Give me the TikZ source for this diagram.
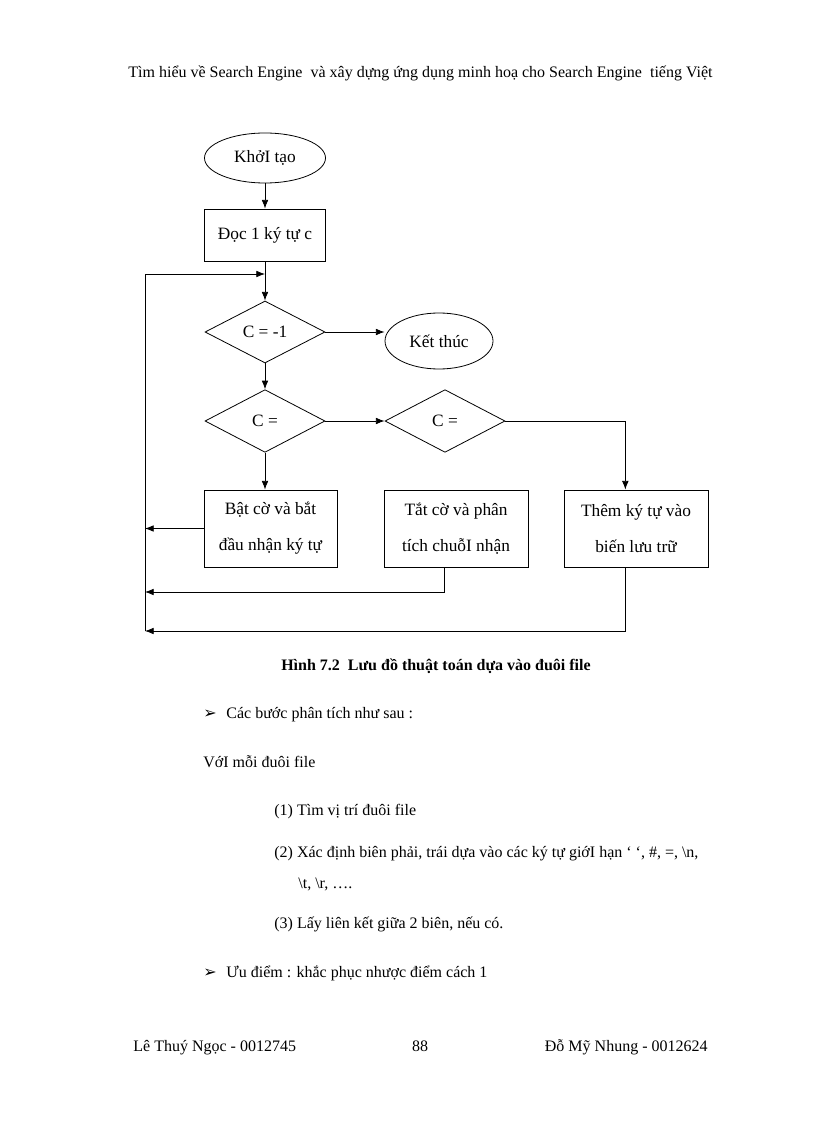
\documentclass[tikz,border=0pt]{standalone}
\usepackage{fontspec}
\setmainfont{Liberation Serif}
\newfontfamily\symfont{DejaVu Sans}
\usetikzlibrary{positioning,shapes.geometric,arrows.meta}

\begin{document}
\begin{tikzpicture}[x=0.75pt,y=-0.75pt,line width=0.6pt,
    >={Latex[length=6.5pt,width=5pt]},
    term/.style={draw,ellipse,inner sep=0pt,font=\fontsize{13}{15}\selectfont},
    stepbox/.style={draw,rectangle,align=center,inner sep=0pt,font=\fontsize{13}{27}\selectfont},
    test/.style={draw,diamond,inner sep=0pt,minimum width=90pt,minimum height=47pt,font=\fontsize{13}{15}\selectfont},
    txt/.style={anchor=base west,inner sep=0pt,font=\fontsize{12}{14}\selectfont}]
      \useasboundingbox (0,0) rectangle (816,1123);

      \node[anchor=base,inner sep=0pt,font=\fontsize{12}{14}\selectfont] (head) at (420.5,78) {Tìm hiểu về Search Engine \ và xây dựng ứng dụng minh hoạ cho Search Engine \ tiếng Việt};

      \node[term,minimum width=90.75pt,minimum height=37.5pt] (start) at (265,158) {KhởI tạo};
      \node[stepbox,minimum width=90.75pt,minimum height=39pt] (read) at (265,235) {Đọc 1 ký tự c};
      \node[test,minimum height=46.5pt] (d1) at (265,332) {C = -1};
      \node[term,minimum width=81pt,minimum height=42pt] (end) at (439,341) {Kết thúc};

      \node[test] (d2) at (265,421) {C =};
      \node[test] (d3) at (445,421) {C =};

      \node[stepbox,minimum width=99.75pt,minimum height=57.75pt] (set) at (270.5,528.5) {Bật cờ và bắt\\đầu nhận ký tự};
      \node[stepbox,minimum width=108pt,minimum height=57.75pt] (parse) at (456,528.5) {Tắt cờ và phân\\tích chuỗI nhận};
      \node[stepbox,minimum width=108pt,minimum height=57.75pt] (add) at (636,528.5) {Thêm ký tự vào\\biến lưu trữ};

      \coordinate (join) at (265,274);
      \coordinate (railtop) at (145,274);
      \coordinate (back2) at (145,592);
      \coordinate (back3) at (145,631);

      \draw[->] (start) -- (read);
      \draw[->] (read) -- (d1);
      \draw[->] (back3) -- (railtop) -- (join);
      \draw[->] (d1.east) -- (d1.east -| end.west);
      \draw[->] (d1) -- (d2);
      \draw[->] (d2) -- (d3);
      \draw[->] (d3.east) -| ([xshift=-8pt]add.north);
      \draw[->] (d2.south) -- (d2.south |- set.north);
      \draw[->] (set.west) -- (set.west -| railtop);
      \draw[->] ([xshift=-9pt]parse.south) |- (back2);
      \draw[->] ([xshift=-8pt]add.south) |- (back3);

      \node[anchor=base,inner sep=0pt,font=\fontsize{12}{14}\selectfont\bfseries] (caption) at (436,670) {Hình 7.2 \ Lưu đồ thuật toán dựa vào đuôi file};

      \node[txt,font=\symfont\fontsize{12}{14}\selectfont] (mark1) at (203,718) {➢};
      \node[txt] (steps) at (226,718) {Các bước phân tích như sau :};
      \node[txt] (each) at (203,767) {VớI mỗi đuôi file};
      \node[txt] (s1) at (274,815) {(1) Tìm vị trí đuôi file};
      \node[txt] (s2) at (274,857) {(2) Xác định biên phải, trái dựa vào các ký tự giớI hạn ‘ ‘, \#, =, \textbackslash n,};
      \node[txt] (s2b) at (298,888) {\textbackslash t, \textbackslash r, ….};
      \node[txt] (s3) at (274,928) {(3) Lấy liên kết giữa 2 biên, nếu có.};
      \node[txt,font=\symfont\fontsize{12}{14}\selectfont] (mark2) at (203,977) {➢};
      \node[txt] (pro) at (226,977) {Ưu điểm : khắc phục nhược điểm cách 1};

      \node[txt] (auth1) at (133,1051) {Lê Thuý Ngọc - 0012745};
      \node[anchor=base,inner sep=0pt,font=\fontsize{12}{14}\selectfont] (page) at (420,1051) {88};
      \node[anchor=base east,inner sep=0pt,font=\fontsize{12}{14}\selectfont] (auth2) at (708,1051) {Đỗ Mỹ Nhung - 0012624};
    \end{tikzpicture}
\end{document}
